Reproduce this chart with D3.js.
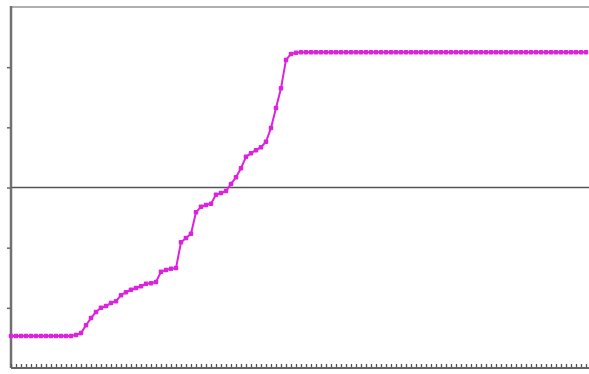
<!DOCTYPE html>
<html>
<head>
<meta charset="utf-8">
<script src="https://d3js.org/d3.v7.min.js"></script>
<style>
  body { margin: 0; background: #fff; }
</style>
</head>
<body>
<script>
var yTicks = [-2, -1, 0, 1, 2];

var values = [
  -2.47, -2.47, -2.47, -2.47, -2.47, -2.47, -2.47, -2.47, -2.47, -2.47,
  -2.47, -2.47, -2.47, -2.45, -2.42, -2.29, -2.17, -2.07, -2.00, -1.97,
  -1.92, -1.89, -1.79, -1.74, -1.70, -1.67, -1.64, -1.60, -1.59, -1.57,
  -1.40, -1.37, -1.35, -1.34, -0.91, -0.84, -0.77, -0.41, -0.32, -0.29,
  -0.27, -0.12, -0.09, -0.06, 0.06, 0.17, 0.32, 0.51, 0.57, 0.62,
  0.67, 0.76, 0.99, 1.32, 1.65, 2.12, 2.22, 2.24, 2.25, 2.25,
  2.25, 2.25, 2.25, 2.25, 2.25, 2.25, 2.25, 2.25, 2.25, 2.25,
  2.25, 2.25, 2.25, 2.25, 2.25, 2.25, 2.25, 2.25, 2.25, 2.25,
  2.25, 2.25, 2.25, 2.25, 2.25, 2.25, 2.25, 2.25, 2.25, 2.25,
  2.25, 2.25, 2.25, 2.25, 2.25, 2.25, 2.25, 2.25, 2.25, 2.25,
  2.25, 2.25, 2.25, 2.25, 2.25, 2.25, 2.25, 2.25, 2.25, 2.25,
  2.25, 2.25, 2.25, 2.25, 2.25, 2.25
];

var width = 589, height = 374,
    padding = {top: 7, right: 0, bottom: 6, left: 11};

var innerW = width - padding.left - padding.right,
    innerH = height - padding.top - padding.bottom;

var svg = d3.select('body').append('svg')
            .attr('width', width)
            .attr('height', height)
            .append('g')
            .attr('transform', 'translate(' + padding.left + ',' + padding.top + ')');

var x = d3.scaleLinear().domain([0, 115.6]).range([0, innerW]);
var y = d3.scaleLinear().domain([-3, 3]).range([innerH, 0]);

// Frame on top
svg.append('line')
  .attr('x1', 0).attr('x2', innerW)
  .attr('y1', 0).attr('y2', 0)
  .style('stroke', '#b0b0b0')
  .style('stroke-width', 2);

// Zero line
svg.append('line')
  .attr('x1', 0).attr('x2', innerW)
  .attr('y1', y(0)).attr('y2', y(0))
  .style('stroke', '#555')
  .style('stroke-width', 1.3);

// Left axis
var yAxis = svg.append('g')
  .call(d3.axisLeft(y).tickValues(yTicks).tickSize(4).tickFormat(''));
yAxis.select('.domain').remove();
yAxis.selectAll('line').style('stroke', '#666').style('stroke-width', 1.5);

svg.append('line')
  .attr('x1', 0).attr('x2', 0)
  .attr('y1', -1).attr('y2', innerH)
  .style('stroke', '#707070')
  .style('stroke-width', 2.5);

// Bottom axis, one tick per point, pointing up
var xAxis = svg.append('g')
  .attr('transform', 'translate(0,' + innerH + ')')
  .call(d3.axisBottom(x).tickValues(d3.range(values.length)).tickSize(-4).tickFormat(''));
xAxis.select('.domain').remove();
xAxis.selectAll('line').style('stroke', '#555').style('stroke-width', 1.3);

svg.append('line')
  .attr('x1', 0).attr('x2', innerW)
  .attr('y1', innerH).attr('y2', innerH)
  .style('stroke', '#666')
  .style('stroke-width', 2);

// Series
var line = d3.line()
  .x(function(d, i){ return x(i); })
  .y(function(d){ return y(d); });

svg.append('path')
  .datum(values)
  .attr('d', line)
  .style('fill', 'none')
  .style('stroke', '#dd22dd')
  .style('stroke-width', 2);

svg.selectAll('rect.pt')
  .data(values)
  .enter()
  .append('rect')
    .attr('class', 'pt')
    .attr('x', function(d, i){ return x(i) - 2.25; })
    .attr('y', function(d){ return y(d) - 2.25; })
    .attr('width', 4.5)
    .attr('height', 4.5)
    .attr('rx', 1)
    .style('fill', '#dd22dd');
</script>
</body>
</html>
